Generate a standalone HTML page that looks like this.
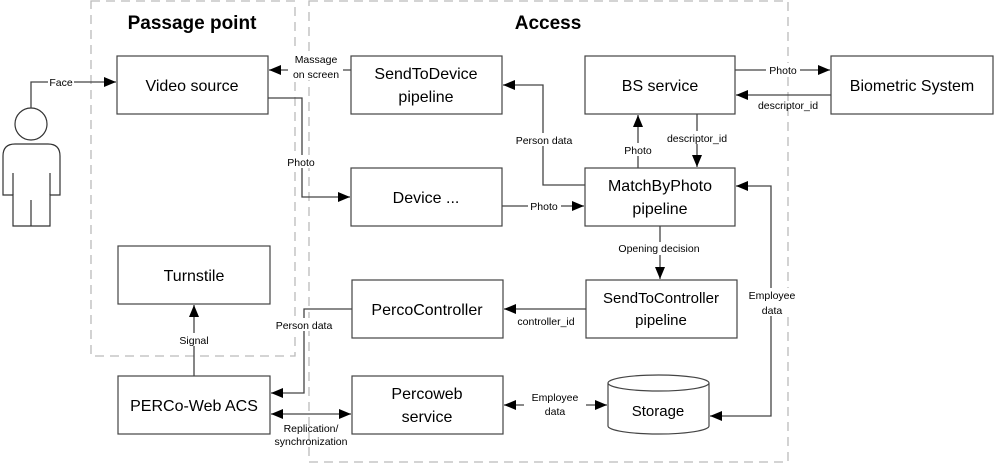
<!DOCTYPE html>
<html><head><meta charset="utf-8"><style>
html,body{margin:0;padding:0;background:#fff;}
svg{display:block;}
text{font-family:"Liberation Sans",sans-serif;fill:#000;}
.b{font-size:16px;text-anchor:middle;}
.l{font-size:10.5px;text-anchor:middle;}
</style></head><body>
<svg width="996" height="464" viewBox="0 0 996 464" xmlns="http://www.w3.org/2000/svg">
<defs>
<marker id="a" markerWidth="12" markerHeight="10" refX="12" refY="5" orient="auto" markerUnits="userSpaceOnUse">
<path d="M0,0 L12,5 L0,10 Z" fill="#000"/></marker>
<marker id="s" markerWidth="12" markerHeight="10" refX="0" refY="5" orient="auto" markerUnits="userSpaceOnUse">
<path d="M12,0 L0,5 L12,10 Z" fill="#000"/></marker>
</defs>
<!-- dashed groups -->
<g fill="none" stroke="#bbb" stroke-width="1.3" stroke-dasharray="9,6">
<path d="M91,1 H295 V356 H91 Z"/>
<path d="M309,1 H788 V462 H309 Z"/>
</g>
<text x="192" y="29" style="font-size:19px;font-weight:bold;text-anchor:middle">Passage point</text>
<text x="548" y="29" style="font-size:19px;font-weight:bold;text-anchor:middle">Access</text>

<!-- person -->
<g fill="none" stroke="#333" stroke-width="1.2">
<circle cx="31" cy="124" r="16"/>
<path d="M3,195 V156 Q3,144 15,144 H48 Q60,144 60,156 V195 H50 V226 H13 V195 Z"/>
<path d="M13,173 V195 M50,173 V195 M31,200 V226"/>
</g>

<!-- boxes -->
<g fill="#fff" stroke="#444" stroke-width="1.2">
<rect x="117" y="56" width="151" height="58"/>
<rect x="351" y="56" width="151" height="58"/>
<rect x="585" y="56" width="150" height="58"/>
<rect x="831" y="56" width="162" height="58"/>
<rect x="351" y="168" width="151" height="58"/>
<rect x="585" y="168" width="150" height="58"/>
<rect x="118" y="246" width="152" height="58"/>
<rect x="352" y="280" width="151" height="58"/>
<rect x="586" y="280" width="151" height="58"/>
<rect x="118" y="376" width="152" height="58"/>
<rect x="352" y="376" width="151" height="58"/>
<path d="M608,383 V426 A50.5,8 0 0 0 709,426 V383 A50.5,8 0 0 0 608,383 A50.5,8 0 0 0 709,383"/>
</g>
<g class="b">
<text class="b" x="192" y="91">Video source</text>
<text class="b" x="426" y="79">SendToDevice</text>
<text class="b" x="426" y="102">pipeline</text>
<text class="b" x="660" y="91">BS service</text>
<text class="b" x="912" y="91">Biometric System</text>
<text class="b" x="426" y="203">Device ...</text>
<text class="b" x="660" y="191">MatchByPhoto</text>
<text class="b" x="660" y="214">pipeline</text>
<text class="b" x="194" y="281">Turnstile</text>
<text class="b" x="427" y="315">PercoController</text>
<text class="b" x="661" y="303" style="font-size:15px">SendToController</text>
<text class="b" x="661" y="325" style="font-size:15px">pipeline</text>
<text class="b" x="194" y="411">PERCo-Web ACS</text>
<text class="b" x="427" y="399">Percoweb</text>
<text class="b" x="427" y="422">service</text>
<text class="b" x="658" y="416" style="font-size:15px">Storage</text>
</g>

<!-- connectors -->
<g fill="none" stroke="#444" stroke-width="1.3">
<path d="M31,108 V82 H116" marker-end="url(#a)"/>
<path d="M351,70 H269" marker-end="url(#a)"/>
<path d="M268,98 H302 V197 H350" marker-end="url(#a)"/>
<path d="M502,206 H584" marker-end="url(#a)"/>
<path d="M585,185 H543 V85 H503" marker-end="url(#a)"/>
<path d="M638,168 V115" marker-end="url(#a)"/>
<path d="M697,114 V167" marker-end="url(#a)"/>
<path d="M735,70 H830" marker-end="url(#a)"/>
<path d="M831,95 H736" marker-end="url(#a)"/>
<path d="M660,226 V279" marker-end="url(#a)"/>
<path d="M710,416 H771 V186 H736" marker-start="url(#s)" marker-end="url(#a)"/>
<path d="M586,309 H504" marker-end="url(#a)"/>
<path d="M352,309 H304 V393 H271" marker-end="url(#a)"/>
<path d="M194,376 V305" marker-end="url(#a)"/>
<path d="M271,414 H351" marker-start="url(#s)" marker-end="url(#a)"/>
<path d="M504,405 H607" marker-start="url(#s)" marker-end="url(#a)"/>
</g>

<!-- labels -->
<g>
<rect x="48" y="75" width="26" height="13" fill="#fff"/>
<text class="l" x="61" y="86">Face</text>
<rect x="288" y="52" width="55" height="28" fill="#fff"/>
<text class="l" x="316" y="63">Massage</text>
<text class="l" x="316" y="78">on screen</text>
<rect x="285" y="155" width="33" height="13" fill="#fff"/>
<text class="l" x="301" y="166">Photo</text>
<rect x="528" y="199" width="33" height="13" fill="#fff"/>
<text class="l" x="544" y="210">Photo</text>
<rect x="512" y="133" width="64" height="13" fill="#fff"/>
<text class="l" x="544" y="144">Person data</text>
<rect x="621" y="143" width="34" height="13" fill="#fff"/>
<text class="l" x="638" y="154">Photo</text>
<rect x="662" y="131" width="72" height="13" fill="#fff"/>
<text class="l" x="697" y="142">descriptor_id</text>
<rect x="766" y="63" width="34" height="13" fill="#fff"/>
<text class="l" x="783" y="74">Photo</text>
<text class="l" x="788" y="109">descriptor_id</text>
<rect x="612" y="242" width="94" height="13" fill="#fff"/>
<text class="l" x="659" y="252">Opening decision</text>
<rect x="744" y="288" width="56" height="28" fill="#fff"/>
<text class="l" x="772" y="299">Employee</text>
<text class="l" x="772" y="314">data</text>
<text class="l" x="546" y="325">controller_id</text>
<rect x="270" y="318" width="66" height="13" fill="#fff"/>
<text class="l" x="304" y="329">Person data</text>
<rect x="176" y="333" width="36" height="13" fill="#fff"/>
<text class="l" x="194" y="344">Signal</text>
<text class="l" x="311" y="432">Replication/</text>
<text class="l" x="311" y="445">synchronization</text>
<rect x="524" y="390" width="62" height="28" fill="#fff"/>
<text class="l" x="555" y="401">Employee</text>
<text class="l" x="555" y="415">data</text>
</g>
</svg>
</body></html>
